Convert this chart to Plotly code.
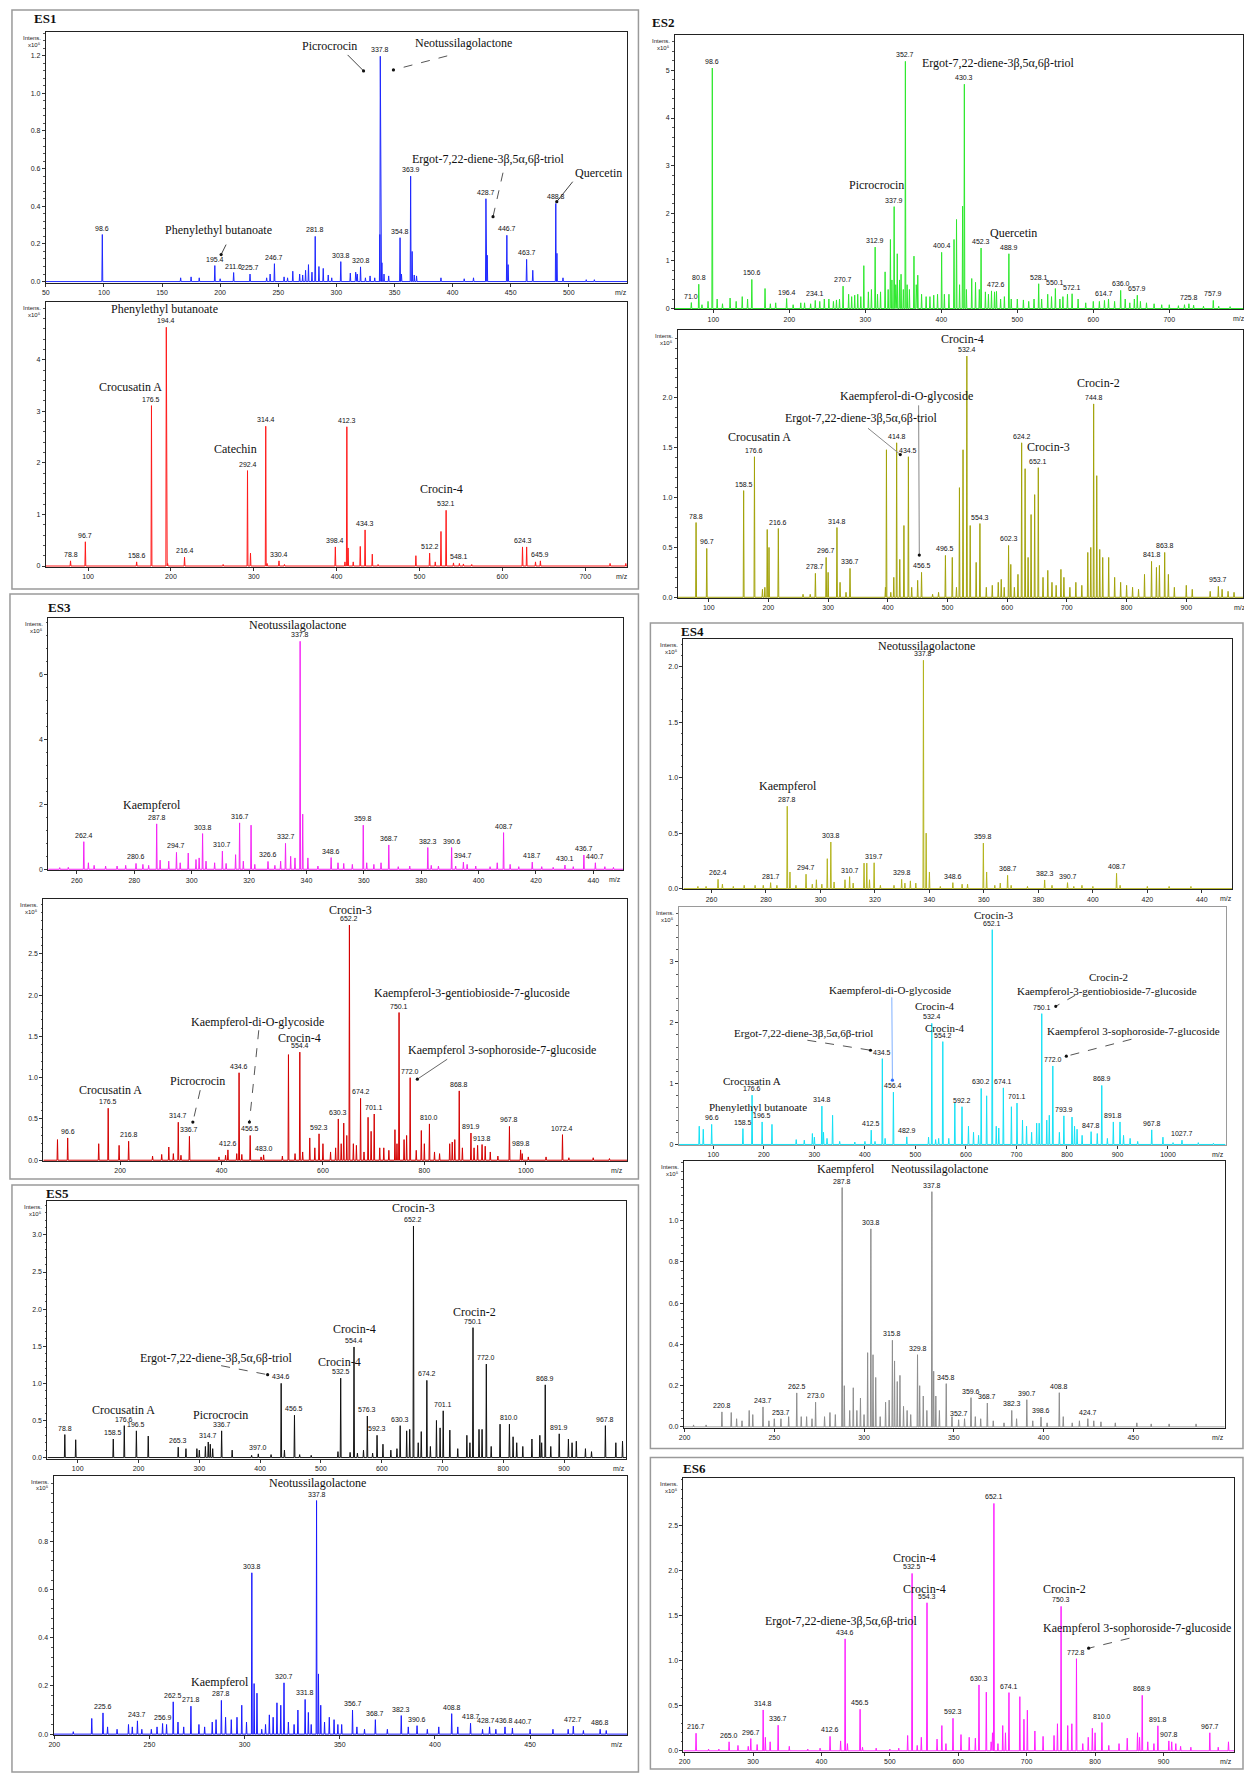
import plotly.graph_objects as go

W, H = 1244, 1782

# ---------------------------------------------------------------- data
# Labelled peaks (m/z, intensity x10^5) and unlabelled minor peaks per spectrum.

# ES1 upper spectrum
es1_top_mz = [98.6, 195.4, 211.6, 225.7, 246.7, 281.8, 303.8, 320.8, 337.8, 354.8, 363.9, 428.7, 446.7, 463.7, 488.8]
es1_top_int = [0.25, 0.085, 0.048, 0.04, 0.095, 0.24, 0.106, 0.078, 1.197, 0.233, 0.56, 0.44, 0.246, 0.118, 0.415]
es1_top_minor_mz = [166, 175, 182, 200, 240, 243, 255, 258, 262.5, 268.4, 271, 273.5, 276, 279, 285, 288.7, 293, 296, 312, 316.6, 318, 325, 329, 333, 337.4, 339.2, 341, 345, 356, 365.2, 367, 369, 390, 410, 418, 429.8, 447.8, 469, 489.8, 495, 515, 522]
es1_top_minor_int = [0.02, 0.025, 0.02, 0.015, 0.02, 0.04, 0.025, 0.02, 0.055, 0.04, 0.035, 0.06, 0.09, 0.05, 0.08, 0.07, 0.035, 0.02, 0.045, 0.05, 0.04, 0.02, 0.03, 0.02, 0.25, 0.1, 0.04, 0.03, 0.04, 0.16, 0.035, 0.03, 0.02, 0.015, 0.02, 0.14, 0.09, 0.06, 0.15, 0.02, 0.01, 0.01]

# ES1 lower spectrum
es1_bot_mz = [78.8, 96.7, 158.6, 176.5, 194.4, 216.4, 292.4, 314.4, 330.4, 398.4, 412.3, 434.3, 512.2, 532.1, 548.1, 624.3, 645.9]
es1_bot_int = [0.1, 0.47, 0.08, 3.11, 4.63, 0.17, 1.85, 2.71, 0.1, 0.37, 2.7, 0.7, 0.25, 1.08, 0.05, 0.37, 0.1]
es1_bot_minor_mz = [196, 263, 296, 316, 337, 410, 413.8, 420, 428.5, 443, 450, 495.6, 519, 525.9, 541, 553, 563, 629.3, 640, 730, 749]
es1_bot_minor_int = [0.05, 0.03, 0.25, 0.05, 0.03, 0.08, 0.35, 0.08, 0.38, 0.23, 0.03, 0.2, 0.08, 0.67, 0.06, 0.04, 0.03, 0.37, 0.08, 0.05, 0.05]

# ES3 upper spectrum
es3_top_mz = [262.4, 280.6, 287.8, 294.7, 303.8, 310.7, 316.7, 326.6, 332.7, 337.8, 348.6, 359.8, 368.7, 382.3, 390.6, 394.7, 408.7, 418.7, 430.1, 436.7, 440.7]
es3_top_int = [0.85, 0.18, 1.4, 0.52, 1.1, 0.56, 1.43, 0.24, 0.8, 7.03, 0.36, 1.36, 0.75, 0.67, 0.67, 0.22, 1.13, 0.22, 0.13, 0.44, 0.2]
es3_top_minor_mz = [254, 257, 264, 266, 270, 274, 277, 283, 285, 289, 292, 296, 298.8, 301.5, 302.6, 305, 308, 312, 315.3, 318, 320.7, 322, 329, 331, 334.5, 336, 338.7, 340.5, 344, 351, 353, 356, 361, 363.5, 366, 372, 376, 383.5, 386, 392, 396, 399, 404, 406.5, 411, 414, 422, 426, 433, 444, 447]
es3_top_minor_int = [0.05, 0.06, 0.2, 0.12, 0.1, 0.1, 0.12, 0.15, 0.12, 0.28, 0.25, 0.2, 0.5, 0.3, 0.35, 0.25, 0.2, 0.18, 0.45, 0.25, 1.36, 0.15, 0.12, 0.25, 0.4, 0.35, 1.7, 0.35, 0.1, 0.2, 0.18, 0.15, 0.2, 0.15, 0.2, 0.08, 0.1, 0.12, 0.1, 0.1, 0.15, 0.1, 0.08, 0.2, 0.15, 0.08, 0.08, 0.06, 0.08, 0.08, 0.06]

# ES3 lower spectrum
es3_bot_mz = [96.6, 176.5, 216.8, 314.7, 336.7, 412.6, 434.6, 456.5, 483.0, 554.4, 592.3, 630.3, 652.2, 674.2, 701.1, 750.1, 772.0, 810.0, 868.8, 891.9, 913.8, 967.8, 989.8, 1072.4]
es3_bot_int = [0.27, 0.63, 0.23, 0.46, 0.29, 0.125, 1.06, 0.3, 0.065, 1.31, 0.32, 0.5, 2.85, 0.75, 0.56, 1.79, 1.0, 0.44, 0.84, 0.33, 0.19, 0.41, 0.125, 0.31]
es3_bot_minor_mz = [76.5, 157.8, 198, 264, 282, 296, 305, 320, 395, 408, 430, 440, 478, 520, 532, 545, 560, 574, 584, 600, 615, 625, 636, 641, 647, 660, 666, 681, 689, 695, 712, 720, 730, 742, 746, 760, 765, 784, 794, 800, 820, 830, 850, 855, 860, 875, 898, 905, 920, 930, 945, 993, 1005, 1040, 1085, 1133, 1165]
es3_bot_minor_int = [0.25, 0.2, 0.18, 0.05, 0.07, 0.16, 0.08, 0.06, 0.04, 0.06, 0.08, 0.07, 0.04, 0.05, 1.28, 0.08, 0.1, 0.27, 0.15, 0.2, 0.1, 0.15, 0.2, 0.45, 0.3, 0.2, 0.18, 0.1, 0.52, 0.35, 0.15, 0.15, 0.12, 0.37, 0.2, 0.25, 0.3, 0.12, 0.36, 0.2, 0.1, 0.08, 0.2, 0.22, 0.25, 0.15, 0.15, 0.18, 0.17, 0.1, 0.05, 0.08, 0.04, 0.04, 0.03, 0.03, 0.02]

# ES5 upper spectrum
es5_top_mz = [78.8, 158.5, 176.6, 196.5, 265.3, 314.7, 336.7, 397.0, 434.6, 456.5, 532.5, 554.4, 576.3, 592.3, 630.3, 652.2, 674.2, 701.1, 750.1, 772.0, 810.0, 868.9, 891.9, 967.8]
es5_top_int = [0.31, 0.25, 0.43, 0.36, 0.14, 0.21, 0.36, 0.05, 1.0, 0.57, 1.07, 1.49, 0.56, 0.3, 0.43, 3.12, 1.04, 0.63, 1.75, 1.26, 0.45, 0.98, 0.32, 0.43]
es5_top_minor_mz = [96.7, 216, 278, 296, 300, 310, 318, 322, 354, 386, 418, 440, 465, 484, 528, 548, 560, 570, 585, 602, 615, 625, 641, 646, 660, 665, 680, 690, 696, 712, 725, 740, 745, 760, 765, 780, 794.6, 816, 822, 832, 847, 860, 863, 878, 907, 913, 920, 935, 945, 985, 996]
es5_top_minor_int = [0.24, 0.29, 0.12, 0.12, 0.1, 0.15, 0.18, 0.12, 0.1, 0.03, 0.04, 0.1, 0.04, 0.03, 0.08, 0.07, 0.06, 0.1, 0.06, 0.18, 0.1, 0.12, 0.36, 0.38, 0.2, 0.35, 0.15, 0.5, 0.4, 0.37, 0.12, 0.3, 0.2, 0.38, 0.38, 0.15, 0.45, 0.28, 0.2, 0.15, 0.25, 0.3, 0.2, 0.15, 0.25, 0.2, 0.22, 0.12, 0.08, 0.2, 0.22]

# ES5 lower spectrum
es5_bot_mz = [225.6, 243.7, 256.9, 262.5, 271.8, 287.8, 303.8, 320.7, 331.8, 337.8, 356.7, 368.7, 382.3, 390.6, 408.8, 418.7, 428.7, 436.8, 440.7, 472.7, 486.8]
es5_bot_int = [0.088, 0.055, 0.044, 0.134, 0.116, 0.14, 0.67, 0.213, 0.144, 0.97, 0.1, 0.06, 0.077, 0.035, 0.085, 0.045, 0.03, 0.03, 0.025, 0.033, 0.02]
es5_bot_minor_mz = [210, 219.7, 228, 233, 239, 241, 246, 251, 254, 259, 265, 268, 276, 279, 283, 285, 290, 293, 296, 298.5, 301, 305, 306.5, 309, 311, 313, 315, 317, 319, 323, 326, 328, 333.5, 335, 338.8, 340, 342, 344.5, 347, 349, 351, 359, 363, 375, 386, 396, 402, 412, 425, 432, 450, 462, 470, 478, 490]
es5_bot_minor_int = [0.01, 0.065, 0.03, 0.02, 0.04, 0.03, 0.02, 0.02, 0.03, 0.04, 0.05, 0.03, 0.04, 0.03, 0.05, 0.06, 0.07, 0.06, 0.07, 0.12, 0.05, 0.21, 0.17, 0.02, 0.04, 0.08, 0.07, 0.13, 0.12, 0.05, 0.04, 0.1, 0.09, 0.04, 0.25, 0.12, 0.05, 0.07, 0.06, 0.04, 0.04, 0.03, 0.02, 0.02, 0.03, 0.02, 0.03, 0.03, 0.02, 0.02, 0.02, 0.02, 0.02, 0.015, 0.015]

# ES2 upper spectrum
es2_top_mz = [71.0, 80.8, 98.6, 150.6, 196.4, 234.1, 270.7, 312.9, 337.9, 352.7, 400.4, 430.3, 452.3, 472.6, 488.9, 528.1, 550.1, 572.1, 614.7, 636.0, 657.9, 725.8, 757.9]
es2_top_int = [0.125, 0.51, 5.05, 0.61, 0.21, 0.17, 0.47, 1.29, 2.14, 5.19, 1.18, 4.71, 1.27, 0.36, 1.15, 0.52, 0.42, 0.31, 0.17, 0.38, 0.28, 0.1, 0.17]
es2_top_minor_mz = [85, 93, 105, 112, 122, 130, 138, 145, 168, 175, 182, 205, 215, 220, 228, 240, 246, 252, 258, 262, 266, 278, 282, 286, 290, 294, 298, 304, 308, 316, 320, 326, 330, 333, 335, 340, 342, 345, 347, 350, 355, 358, 364, 367, 369, 374, 380, 385, 390, 395, 404, 410, 416.7, 420, 424, 428, 433, 440, 445, 450, 458, 462, 466, 470, 478, 483, 492, 500, 508, 515, 522, 532, 540, 545, 556, 560, 566, 580, 590, 600, 608, 620, 628, 642, 648, 654, 662, 670, 680, 690, 700, 712, 720, 732, 745, 765, 780]
es2_top_minor_int = [0.08, 0.15, 0.2, 0.1, 0.22, 0.15, 0.25, 0.2, 0.42, 0.1, 0.12, 0.08, 0.12, 0.12, 0.1, 0.15, 0.2, 0.2, 0.15, 0.18, 0.2, 0.3, 0.25, 0.28, 0.3, 0.25, 0.9, 0.35, 0.4, 0.3, 0.35, 0.77, 0.4, 1.45, 0.6, 0.5, 1.15, 0.6, 0.72, 0.4, 0.5, 0.4, 1.1, 0.5, 0.7, 0.3, 0.25, 0.25, 0.28, 0.3, 0.3, 0.3, 1.45, 1.87, 0.5, 2.15, 0.4, 0.63, 0.55, 0.4, 0.35, 0.3, 0.37, 0.35, 0.2, 0.25, 0.2, 0.2, 0.18, 0.15, 0.2, 0.2, 0.3, 0.25, 0.2, 0.25, 0.3, 0.2, 0.12, 0.15, 0.15, 0.2, 0.15, 0.2, 0.12, 0.2, 0.15, 0.12, 0.1, 0.08, 0.08, 0.06, 0.08, 0.07, 0.05, 0.05, 0.04]

# ES2 lower spectrum
es2_bot_mz = [78.8, 96.7, 158.5, 176.6, 216.6, 278.7, 296.7, 314.8, 336.7, 414.8, 434.5, 456.5, 496.5, 532.4, 554.3, 602.3, 624.2, 652.1, 744.8, 841.8, 863.8, 953.7]
es2_bot_int = [0.75, 0.49, 1.07, 1.41, 0.69, 0.24, 0.4, 0.7, 0.29, 1.55, 1.41, 0.25, 0.42, 2.42, 0.74, 0.52, 1.55, 1.3, 1.94, 0.36, 0.45, 0.11]
es2_bot_minor_mz = [190, 194, 198, 201, 258, 270, 300, 320, 330, 396, 397.7, 405, 410, 420, 427, 440, 450, 475, 485, 508, 515, 520, 526, 538, 548, 565, 575, 585, 590, 595, 606, 612, 618, 630, 635, 640, 646, 660, 668, 675, 682, 690, 695, 705, 715, 725, 735, 740, 750, 755, 760, 770, 780, 790, 800, 810, 820, 830, 850, 855, 870, 880, 900, 910, 940, 960, 970, 980]
es2_bot_minor_int = [0.08, 0.1, 0.68, 0.5, 0.03, 0.03, 0.25, 0.15, 0.05, 0.1, 1.48, 0.05, 0.2, 0.38, 0.72, 0.1, 0.17, 0.03, 0.05, 0.4, 0.1, 1.1, 1.48, 0.72, 0.35, 0.1, 0.12, 0.15, 0.18, 0.1, 0.33, 0.1, 0.23, 1.29, 0.4, 0.83, 1.03, 0.2, 0.27, 0.15, 0.12, 0.28, 0.2, 0.1, 0.15, 0.12, 0.45, 0.5, 1.22, 0.48, 0.4, 0.4, 0.2, 0.15, 0.12, 0.1, 0.08, 0.23, 0.3, 0.32, 0.23, 0.1, 0.12, 0.08, 0.06, 0.08, 0.06, 0.05]

# ES4 upper spectrum
es4_top_mz = [262.4, 281.7, 287.8, 294.7, 303.8, 310.7, 319.7, 329.8, 337.8, 348.6, 359.8, 368.7, 382.3, 390.7, 408.7]
es4_top_int = [0.084, 0.054, 0.742, 0.13, 0.42, 0.108, 0.233, 0.084, 2.057, 0.054, 0.41, 0.12, 0.078, 0.054, 0.138]
es4_top_minor_mz = [255, 258, 264, 268, 272, 276, 279, 284, 288.8, 291, 297, 298.5, 300.5, 302.5, 305, 309, 312, 316, 317, 318, 322, 327, 331, 333, 335, 338.8, 340, 344, 352, 354, 361, 364, 366, 370, 376, 385, 393, 396, 400, 410, 420, 428, 436]
es4_top_minor_int = [0.02, 0.02, 0.04, 0.02, 0.03, 0.03, 0.03, 0.03, 0.15, 0.03, 0.04, 0.08, 0.04, 0.27, 0.06, 0.08, 0.05, 0.23, 0.23, 0.08, 0.03, 0.03, 0.05, 0.07, 0.05, 0.5, 0.15, 0.02, 0.04, 0.04, 0.15, 0.03, 0.05, 0.03, 0.02, 0.03, 0.02, 0.03, 0.02, 0.03, 0.02, 0.02, 0.02]

# ES4 middle spectrum
es4_mid_mz = [96.6, 158.5, 176.6, 196.5, 314.8, 412.5, 434.5, 456.4, 482.9, 532.4, 554.2, 592.2, 630.2, 652.1, 674.1, 701.1, 750.1, 772.0, 793.9, 847.8, 868.9, 891.8, 967.8, 1027.7]
es4_mid_int = [0.33, 0.26, 0.81, 0.37, 0.63, 0.235, 1.41, 0.86, 0.125, 1.99, 1.69, 0.62, 0.92, 3.53, 0.93, 0.68, 2.15, 1.29, 0.47, 0.21, 0.97, 0.37, 0.24, 0.07]
es4_mid_minor_mz = [72, 80, 216, 264, 280, 296, 300, 318, 325, 336, 350, 380, 400, 420, 440, 526, 540, 546, 566, 578, 605, 615, 625, 641, 660, 665, 690, 712, 720, 730, 740, 745, 760, 765, 785, 810, 815, 820, 830, 860, 880, 905, 912, 925, 940, 990, 1010, 1060, 1090]
es4_mid_minor_int = [0.3, 0.25, 0.33, 0.08, 0.07, 0.18, 0.12, 0.2, 0.1, 0.48, 0.05, 0.04, 0.05, 0.05, 0.1, 0.12, 0.08, 0.1, 0.1, 0.68, 0.3, 0.2, 0.15, 0.8, 0.3, 0.27, 0.62, 0.4, 0.3, 0.2, 0.35, 0.35, 0.4, 0.48, 0.2, 0.45, 0.3, 0.25, 0.15, 0.18, 0.1, 0.37, 0.15, 0.1, 0.05, 0.12, 0.03, 0.03, 0.02]

# ES4 lower spectrum
es4_bot_mz = [220.8, 243.7, 253.7, 262.5, 273.0, 287.8, 303.8, 315.8, 329.8, 337.8, 345.8, 352.7, 359.6, 368.7, 382.3, 390.7, 398.6, 408.8, 424.7]
es4_bot_int = [0.073, 0.097, 0.04, 0.165, 0.12, 1.16, 0.96, 0.42, 0.35, 1.14, 0.21, 0.035, 0.142, 0.116, 0.08, 0.132, 0.048, 0.166, 0.04]
es4_bot_minor_mz = [205, 212, 226, 229, 232, 236, 238, 247, 250, 258, 265, 268, 271, 278, 281, 284, 289, 292, 294, 296, 298, 300, 302, 305, 306.5, 309, 312, 314, 317, 318.5, 320, 322, 324, 326, 331, 333, 335, 338.8, 340, 342, 349, 356, 362, 365, 372, 378, 385, 394, 402, 411, 416, 420, 428, 432, 440, 452, 460, 470, 485]
es4_bot_minor_int = [0.01, 0.01, 0.07, 0.04, 0.03, 0.08, 0.06, 0.03, 0.04, 0.05, 0.05, 0.05, 0.04, 0.05, 0.07, 0.06, 0.2, 0.08, 0.19, 0.08, 0.14, 0.06, 0.36, 0.35, 0.24, 0.05, 0.12, 0.13, 0.32, 0.22, 0.25, 0.1, 0.08, 0.06, 0.2, 0.15, 0.08, 0.27, 0.15, 0.08, 0.05, 0.04, 0.05, 0.04, 0.03, 0.02, 0.04, 0.03, 0.02, 0.05, 0.02, 0.03, 0.03, 0.025, 0.02, 0.02, 0.015, 0.015, 0.015]

# ES6 spectrum
es6_mz = [216.7, 265.0, 296.7, 314.8, 336.7, 412.6, 434.6, 456.5, 532.5, 554.3, 592.3, 630.3, 652.1, 674.1, 750.3, 772.8, 810.0, 868.9, 891.8, 907.8, 967.7]
es6_int = [0.195, 0.1, 0.136, 0.453, 0.284, 0.16, 1.24, 0.46, 1.965, 1.64, 0.36, 0.73, 2.74, 0.645, 1.6, 1.02, 0.313, 0.615, 0.277, 0.11, 0.2]
es6_minor_mz = [235, 250, 278, 293, 306, 318, 325, 353, 380, 398, 428, 438, 460, 480, 500, 513, 526, 540, 546, 569, 576, 582, 604, 616, 625, 641, 648, 650, 658, 665, 669, 690, 696, 701, 712, 724, 740, 745, 760, 766, 782, 790, 796, 800, 820, 835, 847, 862, 865, 877, 886, 912, 918, 925, 940, 980, 995]
es6_minor_int = [0.02, 0.02, 0.06, 0.05, 0.07, 0.15, 0.1, 0.05, 0.02, 0.03, 0.11, 0.08, 0.04, 0.03, 0.02, 0.03, 0.17, 0.06, 0.15, 0.13, 0.28, 0.08, 0.18, 0.15, 0.14, 0.65, 0.1, 0.2, 0.08, 0.28, 0.2, 0.6, 0.35, 0.45, 0.22, 0.16, 0.17, 0.3, 0.28, 0.3, 0.08, 0.15, 0.25, 0.2, 0.06, 0.08, 0.14, 0.2, 0.15, 0.1, 0.08, 0.1, 0.08, 0.05, 0.04, 0.04, 0.1]

# ---------------------------------------------------------------- panel styles
def frange(a, b, s):
    out, v = [], a
    while v <= b + 1e-9:
        out.append(round(v, 4))
        v += s
    return out

PANELS = [
    dict(data=(es1_top_mz, es1_top_int, es1_top_minor_mz, es1_top_minor_int), box=(41, 32, 625, 283),
         xr=(50, 550.5), yr=(-0.005, 1.326), xt=frange(50, 500, 50), yt=frange(0, 1.2, 0.2), yf="{:.1f}", ym=0.04,
         mzpos=545, color="#1e28ff", frame="#222"),
    dict(data=(es1_bot_mz, es1_bot_int, es1_bot_minor_mz, es1_bot_minor_int), box=(41, 303, 625, 568),
         xr=(49, 751), yr=(-0.02, 5.11), xt=frange(100, 700, 100), yt=frange(0, 4, 1), yf="{:.0f}", ym=0.2,
         mzpos=744, color="#ff1a1a", frame="#222"),
    dict(data=(es3_top_mz, es3_top_int, es3_top_minor_mz, es3_top_minor_int), box=(43.4, 619, 620.7, 871.7),
         xr=(250, 450.4), yr=(-0.03, 7.75), xt=frange(260, 440, 20), yt=frange(0, 6, 2), yf="{:.0f}", ym=0.4,
         mzpos=447.6, color="#f425f4", frame="#222"),
    dict(data=(es3_bot_mz, es3_bot_int, es3_bot_minor_mz, es3_bot_minor_int), box=(38.5, 901, 624.7, 1163),
         xr=(48.6, 1200), yr=(-0.01, 3.16), xt=frange(200, 1000, 200), yt=frange(0, 2.5, 0.5), yf="{:.1f}", ym=0.1,
         mzpos=1180, color="#d40000", frame="#222"),
    dict(data=(es5_top_mz, es5_top_int, es5_top_minor_mz, es5_top_minor_int), box=(42.6, 1203, 623.5, 1461),
         xr=(50.2, 1001.7), yr=(-0.013, 3.457), xt=frange(100, 900, 100), yt=frange(0, 3.0, 0.5), yf="{:.1f}", ym=0.1,
         mzpos=990, color="#111111", frame="#222"),
    dict(data=(es5_bot_mz, es5_bot_int, es5_bot_minor_mz, es5_bot_minor_int), box=(48.7, 1478, 624.7, 1738),
         xr=(199.6, 501), yr=(-0.004, 1.074), xt=frange(200, 450, 50), yt=frange(0, 0.8, 0.2), yf="{:.1f}", ym=0.04,
         mzpos=495.6, color="#1a1aff", frame="#222", shift={428.7: -4, 436.8: -1, 440.7: 11}),
    dict(data=(es2_top_mz, es2_top_int, es2_top_minor_mz, es2_top_minor_int), box=(672.7, 35, 1243, 310),
         xr=(49.5, 797), yr=(-0.02, 5.745), xt=frange(100, 700, 100), yt=frange(0, 5, 1), yf="{:.0f}", ym=0.2,
         mzpos=792, color="#2ee82e", frame="#222"),
    dict(data=(es2_bot_mz, es2_bot_int, es2_bot_minor_mz, es2_bot_minor_int), box=(675.4, 331, 1243, 599),
         xr=(48, 995), yr=(-0.007, 2.677), xt=frange(100, 900, 100), yt=frange(0, 2.0, 0.5), yf="{:.1f}", ym=0.1,
         mzpos=990, color="#a3a30a", frame="#222"),
    dict(data=(es4_top_mz, es4_top_int, es4_top_minor_mz, es4_top_minor_int), box=(681.2, 639.7, 1232, 890.7),
         xr=(249.7, 451.1), yr=(-0.005, 2.252), xt=frange(260, 440, 20), yt=frange(0, 2.0, 0.5), yf="{:.1f}", ym=0.1,
         mzpos=448.7, color="#b4b41e", frame="#222"),
    dict(data=(es4_mid_mz, es4_mid_int, es4_mid_minor_mz, es4_mid_minor_int), box=(676.6, 908.7, 1225.5, 1147),
         xr=(31.7, 1114), yr=(-0.01, 3.9), xt=frange(100, 1000, 100), yt=frange(0, 3, 1), yf="{:.0f}", ym=0.2,
         mzpos=1098.5, color="#14e1f5", frame="#9a9a9a"),
    dict(data=(es4_bot_mz, es4_bot_int, es4_bot_minor_mz, es4_bot_minor_int), box=(681.6, 1163.3, 1224.7, 1430),
         xr=(199.6, 501), yr=(-0.003, 1.287), xt=frange(200, 450, 50), yt=frange(0, 1.0, 0.2), yf="{:.1f}", ym=0.04,
         mzpos=497, color="#8e8e8e", frame="#222"),
    dict(data=(es6_mz, es6_int, es6_minor_mz, es6_minor_int), box=(681.2, 1480.3, 1234.4, 1754.7),
         xr=(198.3, 1003.7), yr=(-0.01, 3.024), xt=frange(200, 900, 100), yt=frange(0, 2.5, 0.5), yf="{:.1f}", ym=0.1,
         mzpos=990.8, color="#ff1eff", frame="#222"),
]

# compound names: text, centre x px, centre y px, font size
COMPOUNDS = [
    ("Picrocrocin", 326, 46, 12), ("Neotussilagolactone", 460, 43, 12),
    ("Ergot-7,22-diene-3β,5α,6β-triol", 485, 159, 12), ("Quercetin", 596, 173, 12),
    ("Phenylethyl butanoate", 214, 230, 12),
    ("Phenylethyl butanoate", 160, 310, 12), ("Crocusatin A", 126, 388, 12),
    ("Catechin", 231, 450, 12), ("Crocin-4", 438, 490, 12),
    ("Neotussilagolactone", 294, 626, 12), ("Kaempferol", 148, 806, 12),
    ("Crocin-3", 347, 912, 12), ("Kaempferol-3-gentiobioside-7-glucoside", 468.5, 995, 12),
    ("Kaempferol-di-O-glycoside", 253.5, 1024, 12), ("Crocin-4", 296, 1040, 12),
    ("Kaempferol 3-sophoroside-7-glucoside", 499, 1052, 12), ("Picrocrocin", 193, 1083, 12),
    ("Crocusatin A", 106, 1092, 12),
    ("Crocin-3", 410.5, 1210, 12), ("Crocin-2", 471.4, 1314, 12), ("Crocin-4", 351, 1331, 12),
    ("Ergot-7,22-diene-3β,5α,6β-triol", 212, 1360, 12), ("Crocin-4", 336, 1364, 12),
    ("Crocusatin A", 118.5, 1412, 12), ("Picrocrocin", 216, 1417, 12),
    ("Neotussilagolactone", 314, 1486, 12), ("Kaempferol", 216, 1685, 12),
    ("Ergot-7,22-diene-3β,5α,6β-triol", 998, 63, 12), ("Picrocrocin", 875, 185, 12),
    ("Quercetin", 1013, 233, 12),
    ("Crocin-4", 961.6, 340, 12), ("Crocin-2", 1097.6, 384, 12),
    ("Kaempferol-di-O-glycoside", 905, 397, 12), ("Ergot-7,22-diene-3β,5α,6β-triol", 859.6, 419, 12),
    ("Crocusatin A", 757.5, 438, 12), ("Crocin-3", 1048, 448, 12),
    ("Neotussilagolactone", 925, 647, 12), ("Kaempferol", 786, 787, 12),
    ("Crocin-3", 992.5, 917, 11), ("Crocin-2", 1108, 978.7, 11),
    ("Kaempferol-3-gentiobioside-7-glucoside", 1106, 992.7, 11),
    ("Kaempferol-di-O-glycoside", 888.5, 992, 11), ("Crocin-4", 933.5, 1008, 11),
    ("Crocin-4", 944, 1029.5, 11), ("Ergot-7,22-diene-3β,5α,6β-triol", 802, 1034.7, 11),
    ("Kaempferol 3-sophoroside-7-glucoside", 1133, 1032.7, 11),
    ("Crocusatin A", 750, 1082.7, 11), ("Phenylethyl butanoate", 755.6, 1109, 11),
    ("Kaempferol", 844, 1171, 12), ("Neotussilagolactone", 938.5, 1171, 12),
    ("Crocin-4", 913.5, 1561, 12), ("Crocin-4", 923, 1592, 12), ("Crocin-2", 1063.7, 1592, 12),
    ("Ergot-7,22-diene-3β,5α,6β-triol", 840.3, 1623.7, 12),
    ("Kaempferol 3-sophoroside-7-glucoside", 1137, 1631, 12),
]

# leader lines: x0, y0, x1 (head), y1 (head), dash, colour
LEADERS = [
    (344, 55, 360, 71, "solid", "#444"), (444, 56, 390, 70, "dash", "#555"),
    (500, 173, 490, 217, "dash", "#555"), (570, 182, 554, 202, "solid", "#444"),
    (222, 245, 217, 255, "solid", "#444"),
    (254.8, 1032, 245.4, 1124, "dash", "#555"), (444, 1061, 414, 1081, "solid", "#666"),
    (196, 1092, 188.6, 1124, "dash", "#555"),
    (217, 1368, 263.7, 1377, "dash", "#555"),
    (917.3, 406, 918, 556, "solid", "#888"), (866.5, 429, 898.9, 455.3, "solid", "#888"),
    (1074.5, 997, 1055, 1008, "dash", "#555"), (890.4, 999, 891, 1082, "solid", "#7fb0ff"),
    (805.6, 1042, 869, 1052, "dash", "#555"), (1131, 1041, 1065.6, 1058, "dash", "#555"),
    (1129, 1641, 1088, 1651, "dash", "#555"),
]

# sample titles: text, x px, y px
TITLES = [("ES1", 40, 19), ("ES2", 661, 23), ("ES3", 55, 609), ("ES4", 690, 633), ("ES5", 53, 1196), ("ES6", 692, 1471)]

# group frames: left, top, right, bottom px
FRAMES = [(7, 10, 636, 590), (5, 595, 636, 1181), (7, 1187, 636, 1775), (648, 624, 1243, 1451), (648, 1460, 1243, 1772)]

SANS = "Liberation Sans Narrow, Liberation Sans, Arial, sans-serif"
SERIF = "Liberation Serif, Times New Roman, serif"


def fx(x):
    return x / W


def fy(y):
    return 1 - y / H


def peak_profile(mz, inten, minor_mz, minor_int, xr, width_px):
    """Narrow triangular profile for every peak, on a flat baseline."""
    half = (xr[1] - xr[0]) / width_px * 0.45
    peaks = sorted(zip(list(mz) + list(minor_mz), list(inten) + list(minor_int)))
    xs, ys = [xr[0]], [0.0]
    for m, h in peaks:
        xs += [m - half, m, m + half]
        ys += [0.0, h, 0.0]
    xs.append(xr[1])
    ys.append(0.0)
    return xs, ys


fig = go.Figure()
annotations = []
shapes = []
layout_axes = {}

for i, p in enumerate(PANELS, start=1):
    sfx = "" if i == 1 else str(i)
    L, T, R, B = p["box"]
    mz, it, mmz, mit = p["data"]
    xs, ys = peak_profile(mz, it, mmz, mit, p["xr"], R - L)
    fig.add_trace(go.Scatter(x=xs, y=ys, mode="lines", line=dict(color=p["color"], width=1),
                             xaxis="x" + sfx, yaxis="y" + sfx, hoverinfo="skip", showlegend=False))
    layout_axes["xaxis" + sfx] = dict(
        domain=[fx(L), fx(R)], anchor="y" + sfx, range=list(p["xr"]),
        showline=True, mirror=True, linecolor=p["frame"], linewidth=1,
        ticks="outside", ticklen=3, tickwidth=1, tickcolor="#333",
        tickvals=p["xt"], ticktext=[f"{v:g}" for v in p["xt"]],
        tickfont=dict(family=SANS, size=7, color="#222"),
        showgrid=False, zeroline=False, fixedrange=True)
    layout_axes["yaxis" + sfx] = dict(
        domain=[fy(B), fy(T)], anchor="x" + sfx, range=list(p["yr"]),
        showline=True, mirror=True, linecolor=p["frame"], linewidth=1,
        ticks="outside", ticklen=3, tickwidth=1, tickcolor="#333",
        tickvals=p["yt"], ticktext=[p["yf"].format(v) for v in p["yt"]],
        tickfont=dict(family=SANS, size=7, color="#222"),
        minor=dict(ticks="outside", ticklen=1.5, tickwidth=1, tickcolor="#555",
                   tickmode="linear", tick0=0, dtick=p["ym"]),
        showgrid=False, zeroline=False, fixedrange=True)

    # m/z value above each labelled peak
    shift = p.get("shift", {})
    for m, h in zip(mz, it):
        annotations.append(dict(x=m, y=h, xref="x" + sfx, yref="y" + sfx, text=f"{m:.1f}",
                                showarrow=False, xanchor="center", yanchor="bottom", yshift=1,
                                xshift=shift.get(m, 0),
                                font=dict(family=SANS, size=7, color="#111")))
    # axis captions
    annotations.append(dict(x=p["mzpos"], y=0, xref="x" + sfx, yref=f"y{sfx} domain", text="m/z",
                            showarrow=False, xanchor="center", yanchor="top", yshift=-4,
                            font=dict(family=SANS, size=7, color="#222")))
    annotations.append(dict(x=fx(L - 3), y=fy(T + 1), xref="paper", yref="paper",
                            text="Intens.", showarrow=False, xanchor="right", yanchor="top",
                            font=dict(family=SANS, size=6, color="#222")))
    annotations.append(dict(x=fx(L - 3), y=fy(T + 8), xref="paper", yref="paper",
                            text="x10⁵", showarrow=False, xanchor="right", yanchor="top",
                            font=dict(family=SANS, size=6, color="#222")))

for text, x, y, size in COMPOUNDS:
    annotations.append(dict(x=fx(x), y=fy(y), xref="paper", yref="paper", text=text, showarrow=False,
                            xanchor="center", yanchor="middle",
                            font=dict(family=SERIF, size=size, color="#111")))

for text, x, y in TITLES:
    annotations.append(dict(x=fx(x), y=fy(y), xref="paper", yref="paper", text=f"<b>{text}</b>",
                            showarrow=False, xanchor="center", yanchor="middle",
                            font=dict(family=SERIF, size=13, color="#111")))

for x0, y0, x1, y1, dash, col in LEADERS:
    shapes.append(dict(type="line", xref="paper", yref="paper", x0=fx(x0), y0=fy(y0), x1=fx(x1), y1=fy(y1),
                       line=dict(color=col, width=1, dash=dash)))
    r = 1.6
    shapes.append(dict(type="circle", xref="paper", yref="paper", x0=fx(x1 - r), x1=fx(x1 + r),
                       y0=fy(y1 + r), y1=fy(y1 - r), fillcolor="#111" if col != "#7fb0ff" else "#2f6fff",
                       line=dict(width=0)))

for L, T, R, B in FRAMES:
    shapes.append(dict(type="rect", xref="paper", yref="paper", x0=fx(L), x1=fx(R), y0=fy(B), y1=fy(T),
                       line=dict(color="#9a9a9a", width=1.5), fillcolor="rgba(0,0,0,0)", layer="below"))

fig.update_layout(width=W, height=H, margin=dict(l=0, r=0, t=0, b=0), paper_bgcolor="white",
                  plot_bgcolor="white", showlegend=False, annotations=annotations, shapes=shapes,
                  **layout_axes)

fig.write_html("out.html", config={"displayModeBar": False})
